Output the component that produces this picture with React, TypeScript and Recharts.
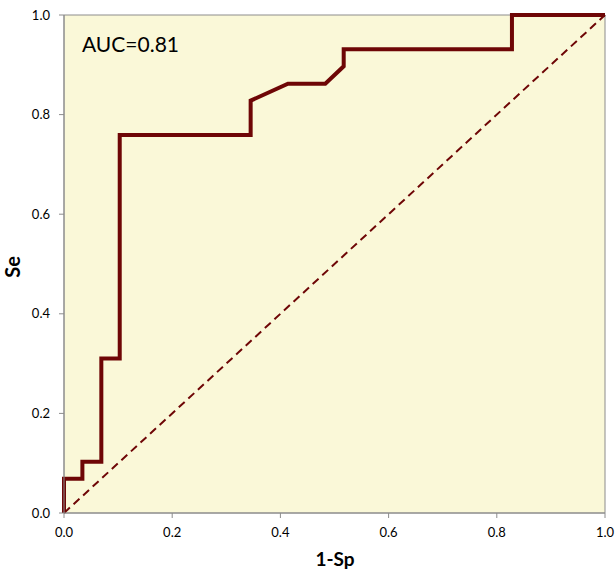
import React from "react";
import { LineChart, Line, XAxis, YAxis, ReferenceArea, Label } from "recharts";

// ROC curve points (1-Sp, Se)
const fpr = [0, 0, 0.034, 0.034, 0.069, 0.069, 0.103, 0.103, 0.345, 0.345, 0.414, 0.483, 0.517, 0.517, 0.828, 0.828, 1];
const tpr = [0, 0.069, 0.069, 0.103, 0.103, 0.31, 0.31, 0.759, 0.759, 0.828, 0.862, 0.862, 0.897, 0.931, 0.931, 1, 1];
const diagX = [0, 1];
const ticks = [0, 0.2, 0.4, 0.6, 0.8, 1];

const roc = fpr.map((x, i) => ({ x, y: tpr[i] }));
const diag = diagX.map((x) => ({ x, y: x }));

const FONT = "Lato, 'Open Sans', sans-serif";
const RED = "#6E0606";
const GRAY = "#8C8C8C";

export default function App() {
  return (
    <div style={{ position: "absolute", left: 0, top: 0, width: 615, height: 572, background: "#fff", fontFamily: FONT }}>
      <LineChart width={615} height={572} margin={{ top: 15, right: 10, left: 0, bottom: 0 }}>
        <ReferenceArea x1={0} x2={1} y1={0} y2={1} fill="#FAF8D8" fillOpacity={1} stroke={GRAY} strokeWidth={1} />
        <XAxis
          type="number"
          dataKey="x"
          domain={[0, 1]}
          ticks={ticks}
          tickFormatter={(v: number) => v.toFixed(1)}
          height={59}
          stroke={GRAY}
          tickSize={5}
          tickMargin={10}
          tick={{ fill: "#000", fontSize: 13, fontFamily: FONT }}
        >
          <Label
            content={() => (
              <text x={335} y={566} textAnchor="middle" fontSize={19} fontWeight="bold" fontFamily={FONT} fill="#000">
                1-Sp
              </text>
            )}
          />
        </XAxis>
        <YAxis
          type="number"
          dataKey="y"
          domain={[0, 1]}
          ticks={ticks}
          tickFormatter={(v: number) => v.toFixed(1)}
          width={64}
          stroke={GRAY}
          tickSize={5}
          tickMargin={9}
          tick={{ fill: "#000", fontSize: 13, fontFamily: FONT }}
        >
          <Label
            content={() => (
              <text
                x={20}
                y={267}
                transform="rotate(-90 20 267)"
                textAnchor="middle"
                fontSize={20}
                fontWeight="bold"
                fontFamily={FONT}
                fill="#000"
              >
                Se
              </text>
            )}
          />
        </YAxis>
        <Line
          data={diag}
          dataKey="y"
          type="linear"
          stroke={RED}
          strokeWidth={2}
          strokeDasharray="8 5"
          dot={false}
          activeDot={false}
          isAnimationActive={false}
        />
        <Line
          data={roc}
          dataKey="y"
          type="linear"
          stroke={RED}
          strokeWidth={4}
          strokeLinejoin="miter"
          dot={false}
          activeDot={false}
          isAnimationActive={false}
        />
      </LineChart>
      <div style={{ position: "absolute", left: 82, top: 31, fontSize: 21, fontFamily: FONT, color: "#000" }}>AUC=0.81</div>
    </div>
  );
}
